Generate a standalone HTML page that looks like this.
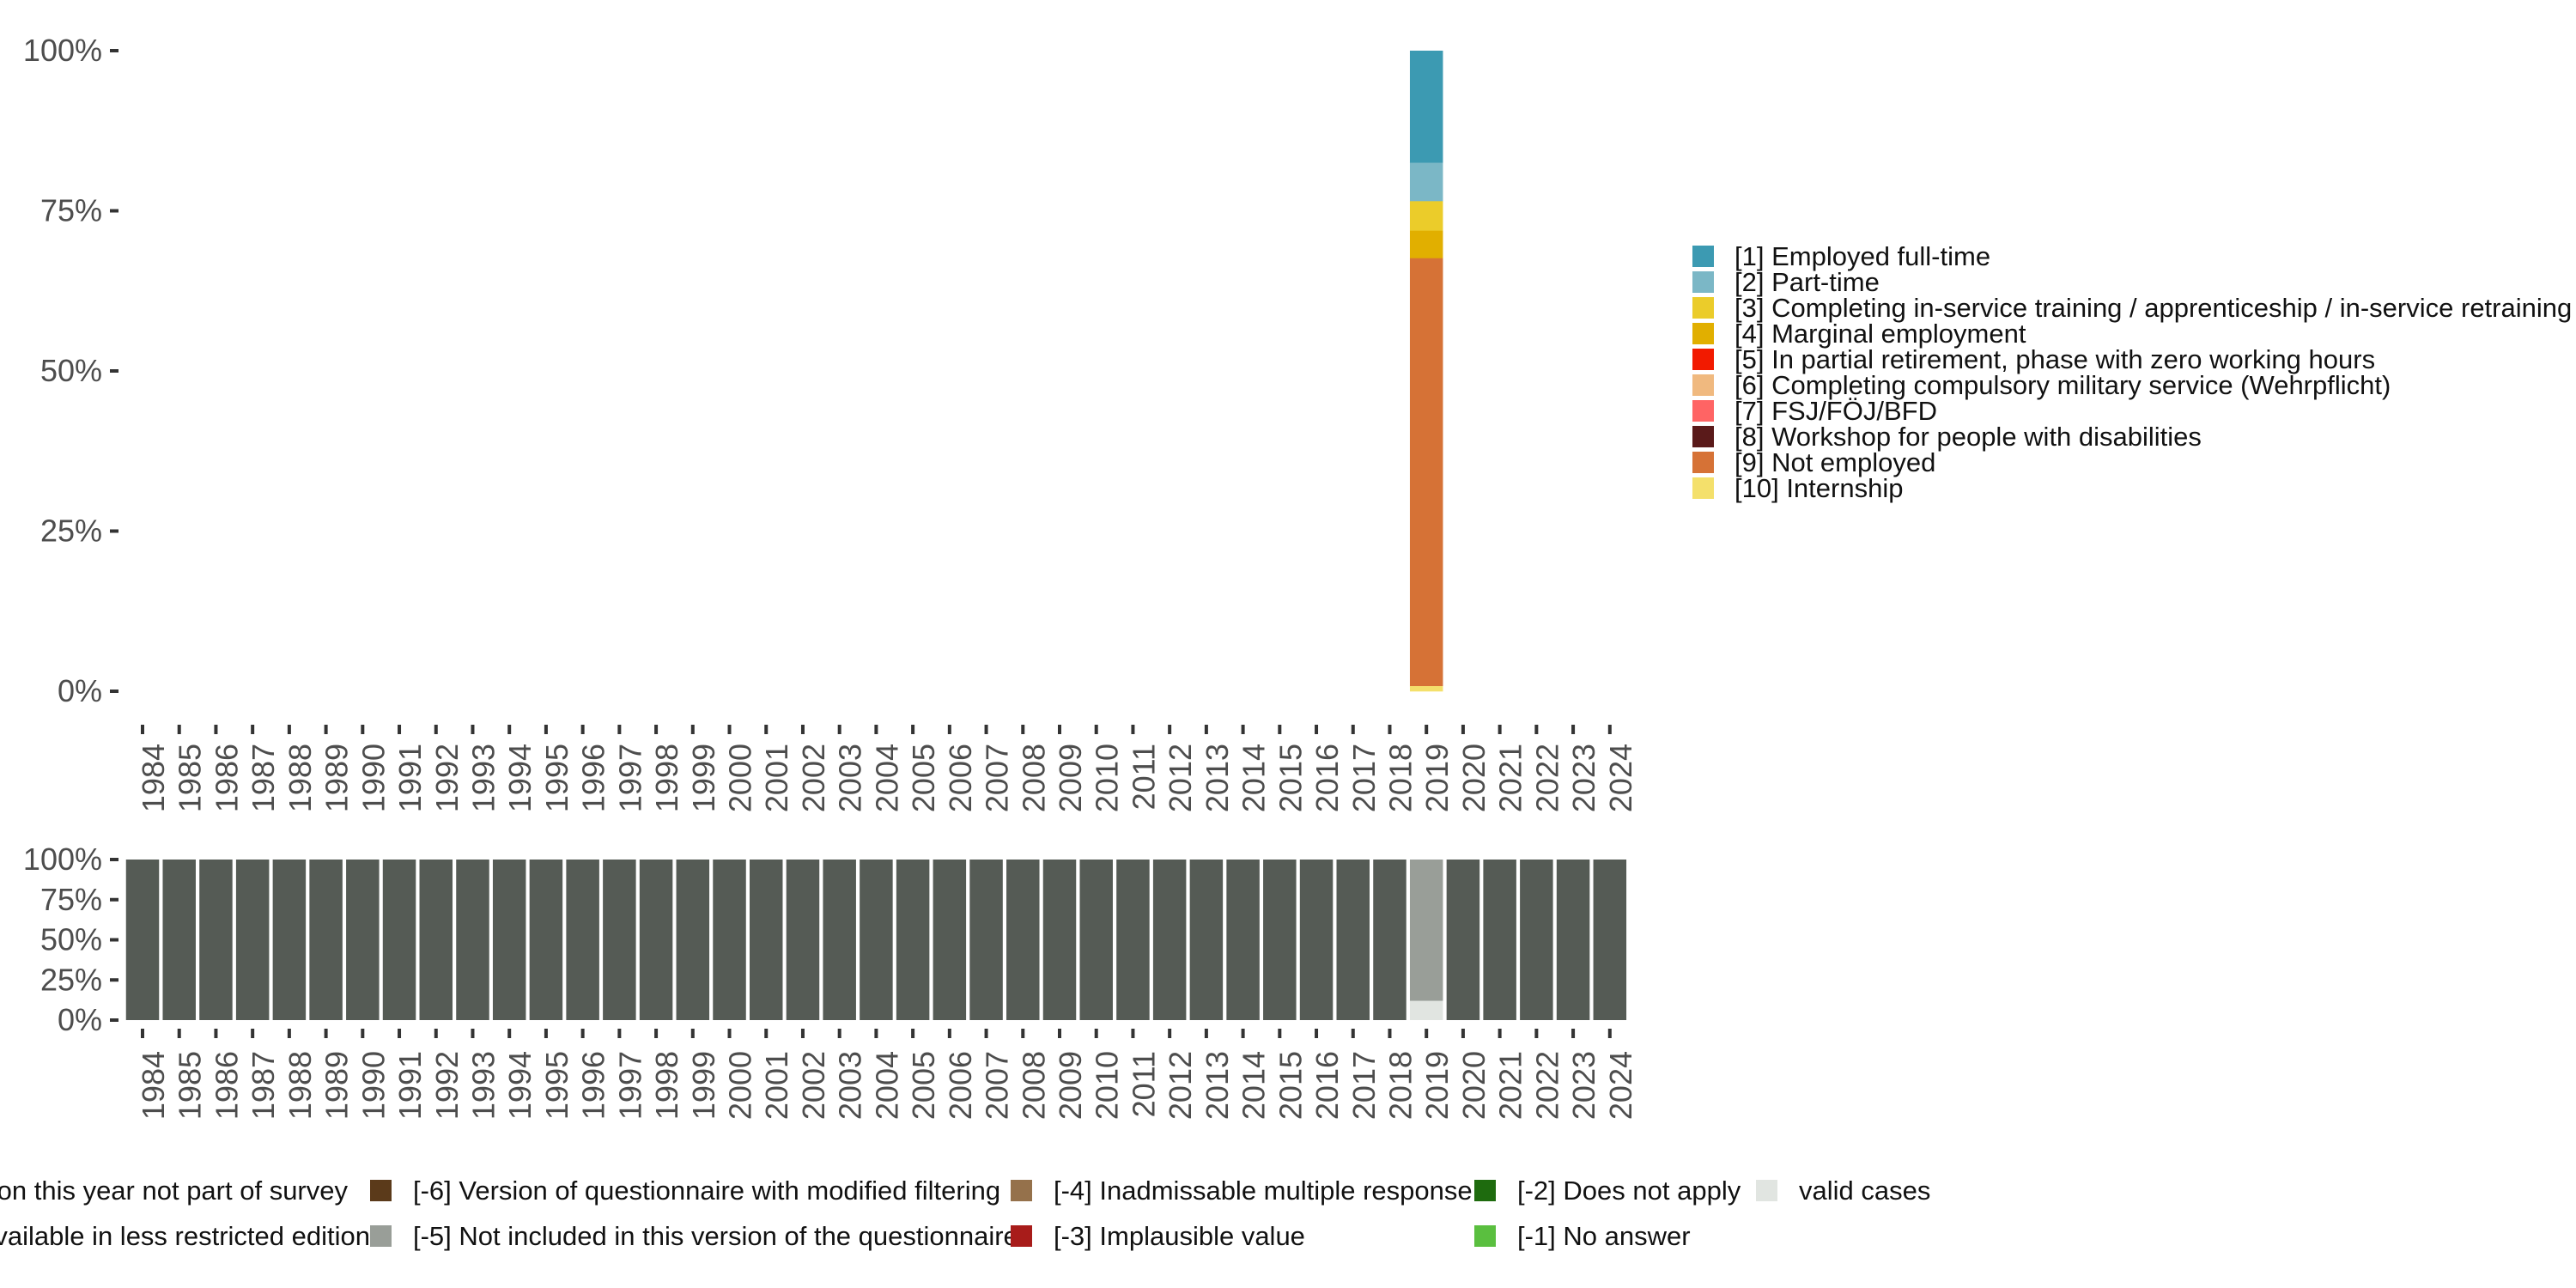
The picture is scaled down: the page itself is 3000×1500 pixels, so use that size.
<!DOCTYPE html>
<html><head><meta charset="utf-8"><style>
html,body{margin:0;padding:0;background:#fff;}
svg{display:block;font-family:"Liberation Sans",sans-serif;}
</style></head><body>
<svg id="chart" width="3000" height="1500" viewBox="0 0 3000 1500">
<g id="topchart"></g>
<g id="bottomchart"></g>
<g id="legend1"></g>
<g id="legend2"></g>
</svg>
<script>
const years = [];
for (let y = 1984; y <= 2024; y++) years.push(y);
const catLabels = ["[1] Employed full-time","[2] Part-time","[3] Completing in-service training / apprenticeship / in-service retraining","[4] Marginal employment","[5] In partial retirement, phase with zero working hours","[6] Completing compulsory military service (Wehrpflicht)","[7] FSJ/FÖJ/BFD","[8] Workshop for people with disabilities","[9] Not employed","[10] Internship"];
const catColors = ["#3c9ab2","#7bb7c6","#ebcc2a","#e1af00","#f21a00","#f0b97f","#ff6464","#5a1a1a","#d67236","#f4e06b"];
const validYear = 2019;
const validValues = [17.5,6.0,4.6,4.3,0,0,0,0,66.8,0.8];

const missLabels = ["[-8] Question this year not part of survey","[-7] Only available in less restricted edition","[-6] Version of questionnaire with modified filtering","[-5] Not included in this version of the questionnaire","[-4] Inadmissable multiple response","[-3] Implausible value","[-2] Does not apply","[-1] No answer","valid cases"];
const missColors = ["#555b55","#999e98","#5b3a1a","#999e98","#95714b","#a81c1a","#1e6b0e","#5abf3f","#e1e5e1"];
const notSurveyed = years.map(y => y === 2019 ? 0 : 100);
const notIncluded = years.map(y => y === 2019 ? 88 : 0);
const validCases = years.map(y => y === 2019 ? 12 : 0);
const yTicks = [0,25,50,75,100];
const yTickLabels = ["0%","25%","50%","75%","100%"];

const NS = "http://www.w3.org/2000/svg";
function mk(tag, attrs, parent){const e=document.createElementNS(NS,tag);for(const k in attrs)e.setAttribute(k,attrs[k]);parent.appendChild(e);return e;}
const step = 42.72, bw = 38.5;
const xC = i => 166 + i*step;
const yTop = v => 805 - v/100*746;
const yBot = v => 1188 - v/100*187;

function axes(g, yf, tickY0, labelY){
  yTicks.forEach((t,i)=>{
    const tk = mk('rect',{x:128,y:yf(t)-2,width:10,height:4,fill:'#333'},g);
    
    
    const tx = mk('text',{x:119,y:yf(t)+12,'text-anchor':'end','font-size':36,fill:'#4d4d4d'},g);
    tx.textContent = yTickLabels[i];
    
    
  });
  years.forEach((yr,i)=>{
    const tk = mk('rect',{x:xC(i)-2,y:tickY0,width:4,height:11,fill:'#333'},g);
    
    
    const tx = mk('text',{transform:`translate(${xC(i)+25},${labelY}) rotate(-90)`,'text-anchor':'end','font-size':36,fill:'#4d4d4d'},g);
    tx.textContent = yr;
    
    
  });
}

const topG = document.getElementById('topchart');
axes(topG, yTop, 844, 866);
years.forEach((yr,i)=>{
  if (yr !== validYear) return;
  let cum = 0;
  validValues.forEach((v,c)=>{
    if (v<=0) return;
    const r = mk('rect',{x:xC(i)-bw/2,y:yTop(100-cum),width:bw,height:yTop(100-cum-v)-yTop(100-cum)+0.3,fill:catColors[c]},topG);
    
    
    cum += v;
  });
});

const botG = document.getElementById('bottomchart');
axes(botG, yBot, 1198, 1224);
years.forEach((yr,i)=>{
  const parts = [[validCases[i],8],[notIncluded[i],3],[notSurveyed[i],0]];
  let base = 0;
  parts.forEach(([v,c])=>{
    if (v<=0) return;
    const r = mk('rect',{x:xC(i)-bw/2,y:yBot(base+v),width:bw,height:yBot(base)-yBot(base+v),fill:missColors[c]},botG);
    
    
    base += v;
  });
});

const l1 = document.getElementById('legend1');
catLabels.forEach((lab,i)=>{
  const y0 = 286 + i*30;
  const k = mk('rect',{x:1971,y:y0,width:25,height:25,fill:catColors[i]},l1);
  
  
  const t = mk('text',{x:2020,y:y0+23,'font-size':31,fill:'#111'},l1);
  t.textContent = lab;
  
  
});

const l2 = document.getElementById('legend2');
const colKeyX = [-50,431,1177,1717,2045];
missLabels.forEach((lab,i)=>{
  const col = Math.floor(i/2), row = i%2;
  const kx = colKeyX[col], ky = row ? 1427 : 1374;
  const k = mk('rect',{x:kx,y:ky,width:25,height:25,fill:missColors[i]},l2);
  
  
  let t;
  if (col === 0) {
    t = mk('text',{x: row ? 431 : 405, y: ky+23,'text-anchor':'end','font-size':31,fill:'#111'},l2);
  } else {
    t = mk('text',{x:kx+50,y:ky+23,'font-size':31,fill:'#111'},l2);
  }
  t.textContent = lab;
  
  
});
</script>
</body></html>
